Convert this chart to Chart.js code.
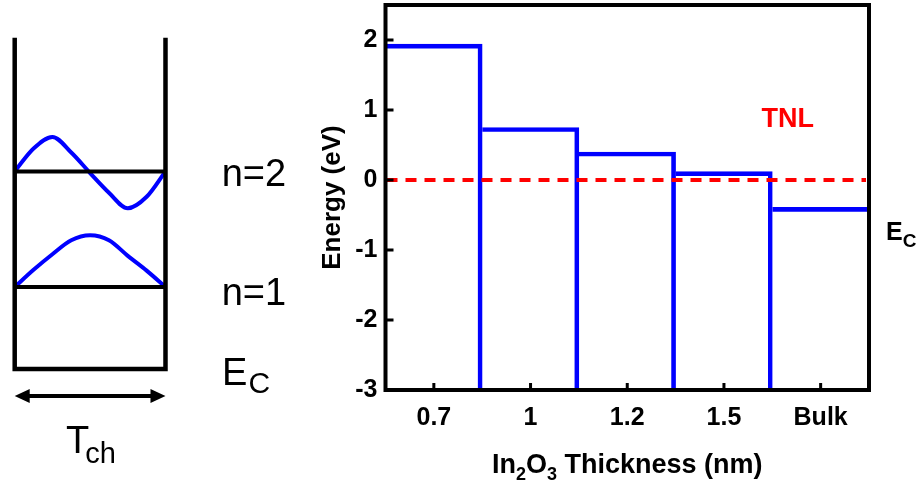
<!DOCTYPE html>
<html>
<head>
<meta charset="utf-8">
<script src="https://cdn.jsdelivr.net/npm/chart.js@4.4.1/dist/chart.umd.min.js"></script>
<style>
  html, body { margin: 0; padding: 0; background: #fff; }
  #wrap { position: relative; width: 919px; height: 487px; overflow: hidden; }
  #well { position: absolute; left: 0; top: 0; }
  #energy { position: absolute; left: 300px; top: 0; }
</style>
</head>
<body>
<div id="wrap">
  <canvas id="well" width="300" height="487"></canvas>
  <canvas id="energy" width="619" height="487"></canvas>
</div>
<script>
// right panel: conduction band edge vs In2O3 thickness
const thickness = ['0.7', '1', '1.2', '1.5', 'Bulk'];
const ecEnergy = [1.94, 0.75, 0.40, 0.12, -0.39];
const tnlEnergy = 0;
const Y_MIN = -3;
const Y_MAX = 2.5;

// left panel: quantum well sketch (x in units of T_ch, y in arbitrary energy units)
const wellX = [0, 0, 1, 1];
const wellY = [4.04, 0, 0, 4.04];
const levelY = [1.0, 2.41];          // n=1, n=2
const levelName = ['n=1', 'n=2'];
const psiX = [0, 0.125, 0.25, 0.375, 0.5, 0.625, 0.75, 0.875, 1];
const psi1 = [1.0, 1.21, 1.40, 1.57, 1.63, 1.57, 1.38, 1.20, 1.0];
const psi2 = [2.41, 2.69, 2.83, 2.64, 2.39, 2.15, 1.96, 2.10, 2.41];
const arrowY = -0.33;

const FONT = '"Liberation Sans", Arial, Helvetica, sans-serif';
const BLUE = '#0000ff';
const RED = '#ff0000';

const pts = (xs, ys) => xs.map((x, i) => ({ x: x, y: ys[i] }));

// text with a subscript, drawn left to right from x
function subText(ctx, x, y, main, sub, size, subSize, drop, bold, gap) {
    const w = bold ? 'bold ' : '';
    ctx.font = w + size + 'px ' + FONT;
    ctx.fillText(main, x, y);
    const mw = ctx.measureText(main).width;
    ctx.font = w + subSize + 'px ' + FONT;
    ctx.fillText(sub, x + mw + (gap || 0), y + drop);
}

const wellLabels = {
    id: 'wellLabels',
    afterDatasetsDraw(chart) {
        const { ctx, scales: { x, y } } = chart;
        ctx.save();
        ctx.fillStyle = '#000';
        ctx.textBaseline = 'alphabetic';

        // level names
        ctx.textAlign = 'right';
        ctx.font = '38px ' + FONT;
        ctx.fillText(levelName[1], x.getPixelForValue(1.80), y.getPixelForValue(levelY[1] - 0.18));
        ctx.fillText(levelName[0], x.getPixelForValue(1.80), y.getPixelForValue(levelY[0] - 0.22));

        ctx.textAlign = 'left';
        subText(ctx, x.getPixelForValue(1.375), y.getPixelForValue(-0.195), 'E', 'C', 38, 30, 8, false, 1);

        // T_ch arrow
        const ay = y.getPixelForValue(arrowY);
        const x0 = x.getPixelForValue(0), x1 = x.getPixelForValue(1);
        ctx.strokeStyle = '#000';
        ctx.lineWidth = 4;
        ctx.beginPath();
        ctx.moveTo(x0 + 10, ay);
        ctx.lineTo(x1 - 10, ay);
        ctx.stroke();
        ctx.beginPath();
        ctx.moveTo(x0, ay); ctx.lineTo(x0 + 15, ay - 7); ctx.lineTo(x0 + 15, ay + 7); ctx.closePath();
        ctx.moveTo(x1, ay); ctx.lineTo(x1 - 15, ay - 7); ctx.lineTo(x1 - 15, ay + 7); ctx.closePath();
        ctx.fill();

        subText(ctx, x.getPixelForValue(0.34), y.getPixelForValue(-1.02), 'T', 'ch', 38, 29, 10, false, -4);
        ctx.restore();
    }
};

new Chart(document.getElementById('well'), {
    type: 'scatter',
    data: {
        datasets: [
            { data: pts(wellX, wellY), borderColor: '#000', borderWidth: 4.5, borderJoinStyle: 'miter' },
            { data: pts([0, 1], [levelY[0], levelY[0]]), borderColor: '#000', borderWidth: 4 },
            { data: pts([0, 1], [levelY[1], levelY[1]]), borderColor: '#000', borderWidth: 4 },
            { data: pts(psiX, psi1), borderColor: BLUE, borderWidth: 4, cubicInterpolationMode: 'monotone' },
            { data: pts(psiX, psi2), borderColor: BLUE, borderWidth: 4, cubicInterpolationMode: 'monotone' },
        ].map(d => Object.assign({ showLine: true, pointRadius: 0, borderCapStyle: 'butt' }, d))
    },
    options: {
        responsive: false,
        animation: false,
        events: [],
        layout: { padding: 0 },
        plugins: { legend: { display: false }, tooltip: { enabled: false } },
        scales: {
            x: { type: 'linear', display: false, min: -0.0975, max: 1.892 },
            y: { type: 'linear', display: false, min: -1.439, max: 4.5 }
        }
    },
    plugins: [wellLabels]
});

const frameAndMarks = {
    id: 'frameAndMarks',
    afterDatasetsDraw(chart) {
        const { ctx, chartArea: a, scales: { x, y } } = chart;
        ctx.save();

        // trap neutral level
        const y0 = y.getPixelForValue(tnlEnergy);
        ctx.strokeStyle = RED;
        ctx.lineWidth = 4;
        ctx.setLineDash([11, 8]);
        ctx.beginPath();
        ctx.moveTo(a.left + 1, y0);
        ctx.lineTo(a.right - 3, y0);
        ctx.stroke();
        ctx.setLineDash([]);

        // inward tick marks
        ctx.strokeStyle = '#000';
        ctx.lineWidth = 3;
        ctx.beginPath();
        y.ticks.forEach(t => {
            const py = y.getPixelForValue(t.value);
            const len = Number.isInteger(t.value) ? 8 : 4;
            ctx.moveTo(a.left, py);
            ctx.lineTo(a.left + len, py);
        });
        x.ticks.forEach((t, i) => {
            const px = x.getPixelForTick(i);
            ctx.moveTo(px, a.bottom);
            ctx.lineTo(px, a.bottom - 7);
        });
        ctx.stroke();

        // frame
        ctx.lineWidth = 4;
        ctx.strokeRect(a.left, a.top, a.right - a.left, a.bottom - a.top);

        // labels
        ctx.fillStyle = RED;
        ctx.font = 'bold 27px ' + FONT;
        ctx.textAlign = 'center';
        ctx.textBaseline = 'middle';
        ctx.fillText('TNL', x.getPixelForValue(3.66), y.getPixelForValue(0.87));

        ctx.fillStyle = '#000';
        ctx.textAlign = 'left';
        ctx.textBaseline = 'alphabetic';
        subText(ctx, a.right + 17, y.getPixelForValue(-0.857), 'E', 'C', 25, 19, 7, true, 0);

        // x axis title with subscripts
        const parts = [['In', 27, 0], ['2', 18, 7], ['O', 27, 0], ['3', 18, 7], [' Thickness (nm)', 27, 0]];
        let total = 0;
        parts.forEach(p => { ctx.font = 'bold ' + p[1] + 'px ' + FONT; total += ctx.measureText(p[0]).width; });
        let cx = (a.left + a.right) / 2 - total / 2;
        const base = a.bottom + 83;
        parts.forEach(p => {
            ctx.font = 'bold ' + p[1] + 'px ' + FONT;
            ctx.fillText(p[0], cx, base + p[2]);
            cx += ctx.measureText(p[0]).width;
        });
        ctx.restore();
    }
};

const noPad = s => { s.paddingTop = 0; s.paddingBottom = 0; s.paddingLeft = 0; s.paddingRight = 0; };

new Chart(document.getElementById('energy'), {
    type: 'bar',
    data: {
        labels: thickness,
        datasets: [{
            data: ecEnergy,
            base: Y_MIN,
            backgroundColor: 'rgba(0,0,0,0)',
            borderColor: BLUE,
            borderSkipped: false,
            borderWidth: ctx => ({ top: 4, left: 0, bottom: 0, right: ctx.dataIndex < ecEnergy.length - 1 ? 4 : 0 }),
            barPercentage: 1,
            categoryPercentage: 1
        }]
    },
    options: {
        responsive: false,
        animation: false,
        events: [],
        layout: { padding: { top: 5, right: 50, left: 0, bottom: 0 } },
        plugins: { legend: { display: false }, tooltip: { enabled: false } },
        scales: {
            x: {
                grid: { display: false, drawTicks: false },
                border: { display: false },
                ticks: { color: '#000', font: { family: FONT, size: 25, weight: 'bold' }, padding: 13, maxRotation: 0 },
                afterFit: s => { s.height = 97; noPad(s); }
            },
            y: {
                min: Y_MIN,
                max: Y_MAX,
                grid: { display: false, drawTicks: false },
                border: { display: false },
                ticks: {
                    stepSize: 0.5,
                    autoSkip: false,
                    color: '#000',
                    font: { family: FONT, size: 25, weight: 'bold' },
                    padding: 8,
                    callback: v => Number.isInteger(v) ? String(v) : null
                },
                title: {
                    display: true,
                    text: 'Energy (eV)',
                    color: '#000',
                    font: { family: FONT, size: 26, weight: 'bold', lineHeight: 1 },
                    padding: { top: 20, bottom: 0 }
                },
                afterFit: s => { s.width = 85.5; noPad(s); }
            }
        }
    },
    plugins: [frameAndMarks]
});
</script>
</body>
</html>
